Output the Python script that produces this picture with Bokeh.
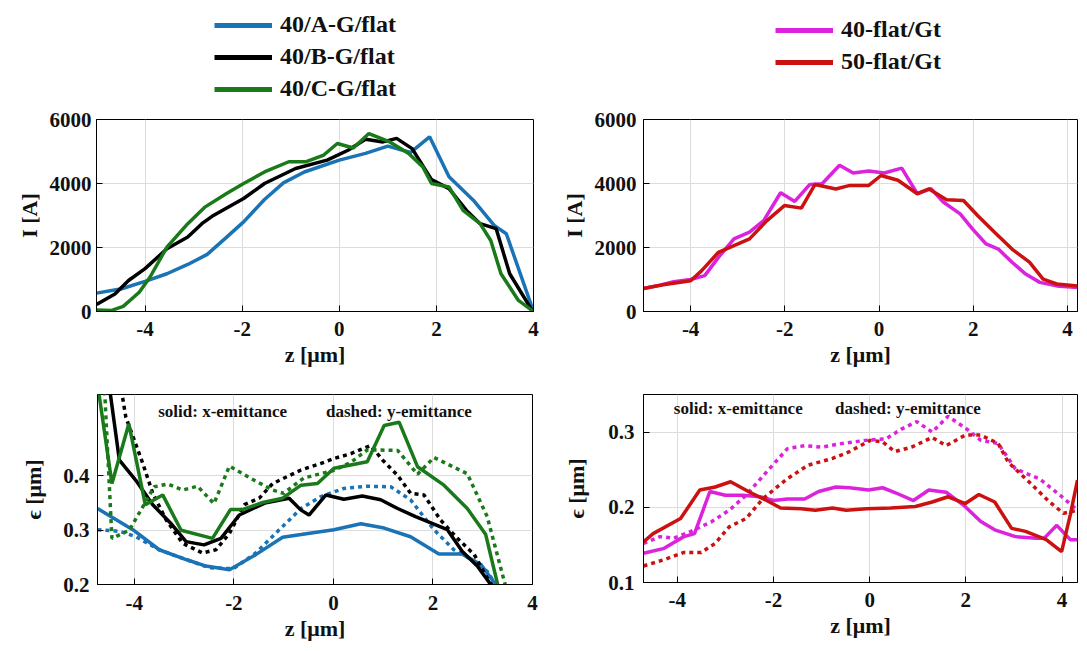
from bokeh.plotting import figure
from bokeh.layouts import column, row
from bokeh.models import Range1d, FixedTicker, Legend, LegendItem, Label
from bokeh.embed import file_html
from bokeh.resources import INLINE

FONT = "Liberation Serif"
BLUE = "#1a73b5"
BLACK = "#000000"
GREEN = "#1a7a1a"
MAGENTA = "#dd22dd"
RED = "#cc1111"

# ---- current profiles I [A] vs z [um] ----
z_a = [-5.0, -4.48, -4.0, -3.55, -3.12, -2.72, -2.33, -1.97, -1.54, -1.15, -0.72, 0.0,
       0.54, 1.0, 1.47, 1.86, 2.26, 2.76, 3.19, 3.44, 4.0]
i_a = [574, 710, 940, 1180, 1470, 1785, 2310, 2800, 3500, 4020, 4360, 4730,
       4940, 5170, 4970, 5460, 4210, 3480, 2690, 2430, 0]

z_b = [-5.0, -4.62, -4.34, -4.0, -3.55, -3.12, -2.83, -2.62, -1.97, -1.54, -0.9, -0.25,
       0.18, 0.54, 0.9, 1.18, 1.5, 1.9, 2.26, 2.62, 2.9, 3.23, 3.51, 3.98]
i_b = [220, 550, 970, 1340, 1960, 2330, 2745, 2975, 3530, 4000, 4470, 4730,
       5040, 5380, 5300, 5410, 5090, 4120, 3840, 3160, 2745, 2590, 1180, 10]

z_c = [-5.0, -4.7, -4.45, -4.12, -3.9, -3.55, -3.12, -2.76, -2.33, -1.97, -1.54, -1.04,
       -0.68, -0.32, -0.04, 0.29, 0.61, 1.04, 1.43, 1.72, 1.9, 2.26, 2.55, 2.9, 3.12,
       3.33, 3.69, 4.0]
i_c = [50, 30, 160, 600, 1070, 2010, 2745, 3270, 3680, 4000, 4360, 4680,
       4680, 4890, 5250, 5110, 5560, 5300, 4940, 4520, 4000, 3890, 3160, 2745, 2220,
       1180, 345, 0]

z_m = [-5.0, -4.65, -4.36, -4.0, -3.7, -3.41, -3.08, -2.75, -2.45, -2.09, -1.79, -1.47,
       -1.21, -0.84, -0.55, -0.22, 0.11, 0.48, 0.81, 1.1, 1.36, 1.72, 1.98, 2.27, 2.53,
       2.82, 3.11, 3.41, 3.77, 4.21]
i_m = [720, 825, 930, 1000, 1120, 1690, 2270, 2480, 2840, 3710, 3440, 3970,
       3990, 4570, 4330, 4390, 4330, 4480, 3680, 3840, 3420, 3050, 2580, 2110, 1950,
       1540, 1170, 910, 800, 750]

z_r = [-5.0, -4.58, -4.0, -3.77, -3.41, -3.08, -2.75, -2.38, -2.01, -1.65, -1.36, -0.92,
       -0.62, -0.22, 0.04, 0.4, 0.81, 1.06, 1.43, 1.79, 2.09, 2.45, 2.82, 3.19, 3.48,
       3.77, 4.21]
i_r = [720, 835, 960, 1270, 1850, 2060, 2270, 2840, 3310, 3230, 3970, 3830,
       3940, 3940, 4250, 4100, 3680, 3830, 3490, 3470, 3000, 2480, 1950, 1540, 1010,
       860, 800]

# ---- emittance [um] vs z [um]; ex = solid, ey = dashed ----
zx_a = [-4.74, -4.03, -3.50, -2.96, -2.56, -2.09, -1.56, -1.02, -0.65, 0.01, 0.55, 1.02,
        1.55, 2.12, 2.59, 2.96, 3.26]
ex_a = [0.340, 0.301, 0.264, 0.246, 0.234, 0.227, 0.255, 0.287, 0.292, 0.301, 0.312, 0.304,
        0.288, 0.256, 0.256, 0.237, 0.2]
zy_a = [-4.74, -4.30, -3.97, -3.50, -2.96, -2.50, -2.01, -1.56, -1.02, -0.65, -0.25, 0.21,
        0.68, 1.15, 1.55, 2.02, 2.42, 2.83, 3.09, 3.26]
ey_a = [0.301, 0.298, 0.288, 0.264, 0.246, 0.231, 0.229, 0.258, 0.307, 0.340, 0.362, 0.377,
        0.381, 0.380, 0.356, 0.301, 0.264, 0.243, 0.224, 0.2]

zx_b = [-4.74, -4.50, -4.30, -3.97, -3.63, -3.27, -2.96, -2.60, -2.26, -1.89, -1.38, -0.89,
        -0.65, -0.49, -0.15, 0.21, 0.58, 0.95, 1.29, 1.65, 2.29, 2.59, 2.89, 3.16]
ex_b = [0.66, 0.563, 0.429, 0.392, 0.347, 0.313, 0.279, 0.273, 0.285, 0.328, 0.350, 0.359,
        0.337, 0.328, 0.365, 0.357, 0.363, 0.356, 0.340, 0.325, 0.301, 0.261, 0.234, 0.2]
zy_b = [-4.45, -4.27, -4.17, -3.83, -3.63, -3.36, -3.03, -2.63, -2.36, -2.09, -1.79, -1.49,
        -1.22, -0.65, -0.25, 0.01, 0.35, 0.75, 0.99, 1.29, 1.55, 1.82, 2.15, 2.49, 2.83,
        3.09, 3.18]
ey_b = [0.66, 0.563, 0.508, 0.423, 0.368, 0.319, 0.276, 0.258, 0.264, 0.294, 0.347, 0.359,
        0.386, 0.411, 0.423, 0.432, 0.441, 0.456, 0.429, 0.401, 0.368, 0.365, 0.319, 0.285,
        0.255, 0.212, 0.2]

zx_c = [-4.74, -4.45, -4.11, -3.78, -3.43, -3.06, -2.43, -2.07, -1.83, -1.42, -1.02, -0.65,
        -0.32, 0.01, 0.68, 1.02, 1.32, 1.69, 2.22, 2.69, 3.06, 3.30]
ex_c = [0.57, 0.386, 0.496, 0.347, 0.365, 0.300, 0.285, 0.338, 0.338, 0.351, 0.359, 0.383,
        0.386, 0.414, 0.426, 0.493, 0.499, 0.417, 0.383, 0.340, 0.292, 0.2]
zy_c = [-4.62, -4.45, -4.10, -3.60, -3.33, -3.03, -2.73, -2.40, -2.09, -1.59, -1.22, -1.0,
        -0.6, 0.0, 0.35, 0.68, 1.29, 1.69, 2.02, 2.69, 3.09, 3.45]
ey_c = [0.60, 0.285, 0.30, 0.38, 0.385, 0.374, 0.381, 0.349, 0.418, 0.392, 0.374, 0.368,
        0.396, 0.410, 0.425, 0.448, 0.447, 0.403, 0.434, 0.404, 0.325, 0.2]

zx_m = [-4.7, -4.29, -3.86, -3.64, -3.32, -3.0, -2.64, -2.28, -2.0, -1.71, -1.35, -1.06,
        -0.7, -0.42, -0.02, 0.27, 0.55, 0.91, 1.23, 1.59, 1.95, 2.31, 2.6, 3.03, 3.46,
        3.63, 3.89, 4.17, 4.32]
ex_m = [0.139, 0.145, 0.161, 0.165, 0.221, 0.216, 0.216, 0.214, 0.209, 0.211, 0.211, 0.221,
        0.227, 0.226, 0.223, 0.226, 0.219, 0.209, 0.223, 0.220, 0.203, 0.181, 0.170, 0.161,
        0.159, 0.159, 0.176, 0.157, 0.157]
zy_m = [-4.7, -4.36, -4.07, -3.71, -3.28, -2.92, -2.57, -2.14, -1.71, -1.35, -0.99, -0.56,
        -0.09, 0.34, 0.66, 0.98, 1.3, 1.63, 2.02, 2.31, 2.67, 3.03, 3.53, 3.96, 4.32]
ey_m = [0.152, 0.161, 0.159, 0.168, 0.181, 0.196, 0.216, 0.247, 0.278, 0.282, 0.280, 0.285,
        0.289, 0.291, 0.304, 0.314, 0.300, 0.321, 0.304, 0.289, 0.285, 0.251, 0.238, 0.216,
        0.196]

zx_r = [-4.7, -4.5, -3.93, -3.53, -3.21, -2.89, -2.49, -2.14, -1.85, -1.42, -1.13, -0.77,
        -0.49, -0.06, 0.44, 0.95, 1.3, 1.63, 1.99, 2.27, 2.6, 2.95, 3.24, 3.67, 3.99, 4.17,
        4.32]
ex_r = [0.154, 0.165, 0.185, 0.223, 0.227, 0.234, 0.220, 0.209, 0.199, 0.198, 0.196, 0.199,
        0.196, 0.198, 0.199, 0.201, 0.207, 0.214, 0.205, 0.217, 0.207, 0.172, 0.168, 0.157,
        0.141, 0.19, 0.236]
zy_r = [-4.7, -4.29, -3.86, -3.5, -3.21, -2.92, -2.57, -2.21, -1.71, -1.28, -0.77, -0.42,
        0.01, 0.27, 0.52, 0.87, 1.3, 1.59, 1.99, 2.31, 2.67, 2.88, 3.31, 3.74, 4.03, 4.32]
ey_r = [0.122, 0.130, 0.140, 0.140, 0.152, 0.174, 0.185, 0.212, 0.238, 0.256, 0.265, 0.274,
        0.289, 0.287, 0.274, 0.280, 0.293, 0.282, 0.296, 0.296, 0.285, 0.260, 0.234, 0.207,
        0.192, 0.196]

names_left = ["40/A-G/flat", "40/B-G/flat", "40/C-G/flat"]
names_right = ["40-flat/Gt", "50-flat/Gt"]
x_ticks = [-4, -2, 0, 2, 4]
i_ticks = [0, 2000, 4000, 6000]
eps_ticks_left = [0.2, 0.3, 0.4]
eps_ticks_right = [0.1, 0.2, 0.3]

LW = 3.5
DOT = "4 4"


def make_fig(xr, yr, fw, fh, left, right, top, bottom, yticks, ylabel,
             ystand, ylab_stand, xstand=10):
    p = figure(frame_width=fw, frame_height=fh, title=None,
               x_range=Range1d(*xr), y_range=Range1d(*yr),
               min_border_left=left, min_border_right=right,
               min_border_top=top, min_border_bottom=bottom,
               output_backend="svg", toolbar_location=None)
    p.background_fill_color = "white"
    p.border_fill_color = "white"
    p.outline_line_color = "black"
    p.outline_line_width = 1
    p.xaxis.ticker = FixedTicker(ticks=x_ticks)
    p.yaxis.ticker = FixedTicker(ticks=yticks)
    p.xaxis.major_label_overrides = {t: str(t) for t in x_ticks}
    p.xaxis.axis_label = "z [μm]"
    p.yaxis.axis_label = ylabel
    for ax in (p.xaxis, p.yaxis):
        ax.axis_line_color = "black"
        ax.major_tick_line_color = "black"
        ax.major_tick_in = 6
        ax.major_tick_out = 0
        ax.minor_tick_line_color = None
        ax.major_label_text_font = FONT
        ax.major_label_text_font_style = "bold"
        ax.major_label_text_font_size = "21px"
        ax.major_label_text_color = "#111111"
        ax.axis_label_text_font = FONT
        ax.axis_label_text_font_style = "bold"
        ax.axis_label_text_font_size = "22px"
        ax.axis_label_text_color = "#111111"
    p.xaxis.major_label_standoff = xstand
    p.xaxis.axis_label_standoff = 3
    p.yaxis.major_label_standoff = ystand
    p.yaxis.axis_label_standoff = ylab_stand
    p.grid.grid_line_color = "#dcdcdc"
    p.grid.grid_line_width = 1
    return p


def legend_fig(width, height, series, names, colors, x, y, spacing):
    # the series are drawn far outside the visible range; only their swatches show
    p = figure(width=width, height=height, title=None, x_range=Range1d(100, 101),
               y_range=Range1d(100, 101), x_axis_location=None, y_axis_location=None,
               min_border=0, output_backend="svg", toolbar_location=None)
    p.grid.visible = False
    p.outline_line_color = None
    p.background_fill_color = "white"
    p.border_fill_color = "white"
    items = []
    for (zs, vs), name, color in zip(series, names, colors):
        r = p.line(zs, vs, line_color=color, line_width=5)
        items.append(LegendItem(label=name, renderers=[r]))
    leg = Legend(items=items, location=(x, y), orientation="vertical",
                 label_text_font=FONT, label_text_font_style="bold",
                 label_text_font_size="24px", label_text_color="#111111",
                 glyph_width=58, glyph_height=26, label_standoff=8, spacing=spacing,
                 padding=0, margin=0, border_line_color=None,
                 background_fill_alpha=0)
    p.add_layout(leg)
    return p


def add_note(p, x1, x2, y):
    for x, t in ((x1, "solid: x-emittance"), (x2, "dashed: y-emittance")):
        p.add_layout(Label(x=x, y=y, text=t, text_font=FONT, text_font_style="bold",
                           text_font_size="17px", text_baseline="middle",
                           text_color="#111111"))


# ---- legends (own strip above the plots) ----
leg_l = legend_fig(545, 102, [(z_a, i_a), (z_b, i_b), (z_c, i_c)], names_left,
                   [BLUE, BLACK, GREEN], 214, 0, 5)
leg_r = legend_fig(535, 102, [(z_m, i_m), (z_r, i_r)], names_right,
                   [MAGENTA, RED], 230, 27, 5)

# ---- top left: current, A/B/C ----
tl = make_fig((-5, 4), (0, 6000), 437, 192, 96, 12, 14, 68, i_ticks, "I [A]", 5, 5)
tl.line(z_a, i_a, line_color=BLUE, line_width=LW)
tl.line(z_b, i_b, line_color=BLACK, line_width=LW)
tl.line(z_c, i_c, line_color=GREEN, line_width=LW)

# ---- top right: current, flat/Gt ----
tr = make_fig((-5, 4.21), (0, 6000), 434, 192, 98, 3, 17, 65, i_ticks, "I [A]", 7, 5)
tr.line(z_m, i_m, line_color=MAGENTA, line_width=LW)
tr.line(z_r, i_r, line_color=RED, line_width=LW)

# ---- bottom left: emittance, A/B/C ----
bl = make_fig((-4.74, 4), (0.2, 0.55), 435, 190, 97, 13, 14, 66, eps_ticks_left,
              "ϵ [μm]", 8, 14, 11)
bl.line(zy_a, ey_a, line_color=BLUE, line_width=LW, line_dash=DOT)
bl.line(zx_a, ex_a, line_color=BLUE, line_width=LW)
bl.line(zy_b, ey_b, line_color=BLACK, line_width=LW, line_dash=DOT)
bl.line(zx_b, ex_b, line_color=BLACK, line_width=LW)
bl.line(zy_c, ey_c, line_color=GREEN, line_width=LW, line_dash=DOT)
bl.line(zx_c, ex_c, line_color=GREEN, line_width=LW)
add_note(bl, -3.52, -0.15, 0.519)

# ---- bottom right: emittance, flat/Gt ----
br = make_fig((-4.7, 4.32), (0.1, 0.35), 434, 188, 98, 3, 18, 64, eps_ticks_right,
              "ϵ [μm]", 9, 16)
br.line(zy_m, ey_m, line_color=MAGENTA, line_width=LW, line_dash=DOT)
br.line(zx_m, ex_m, line_color=MAGENTA, line_width=LW)
br.line(zy_r, ey_r, line_color=RED, line_width=LW, line_dash=DOT)
br.line(zx_r, ex_r, line_color=RED, line_width=LW)
add_note(br, -4.07, -0.72, 0.332)

p = column(row(leg_l, leg_r), row(tl, tr), row(bl, br))

open("out.html", "w").write(file_html(p, INLINE))
